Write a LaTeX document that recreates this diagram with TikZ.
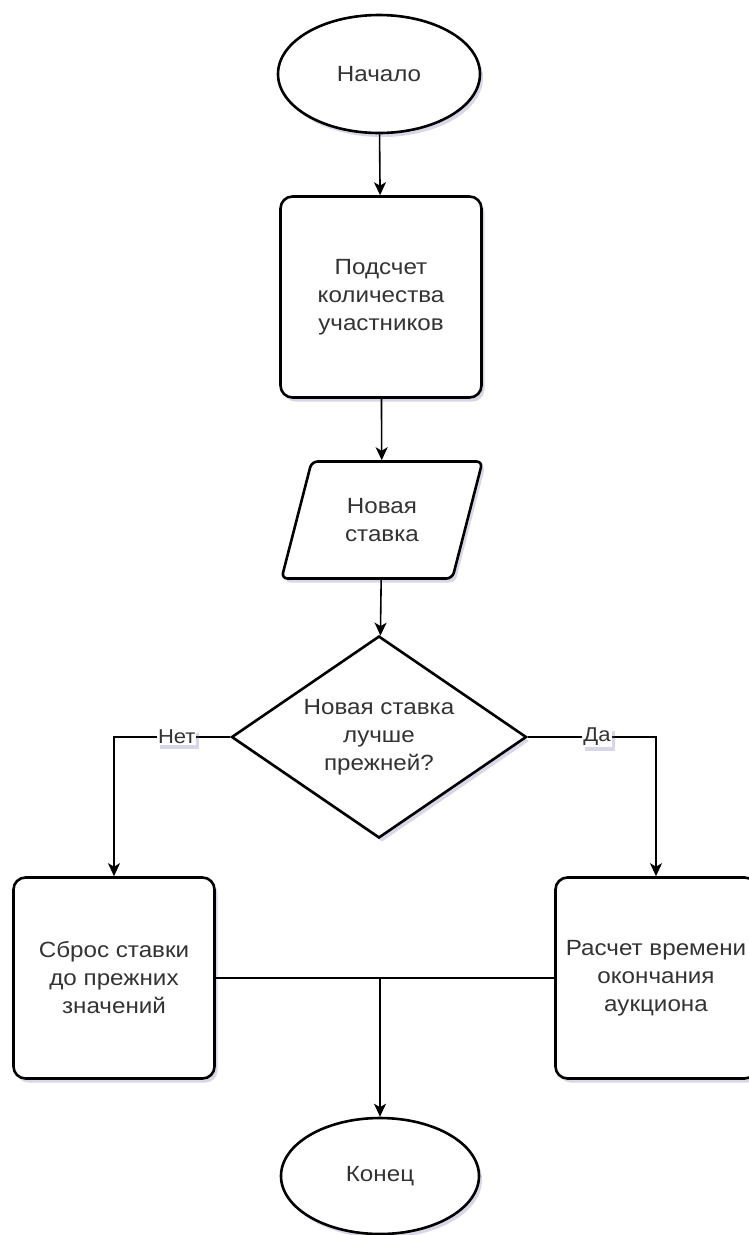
\documentclass[tikz,border=0pt]{standalone}
\usepackage{fontspec}
\setmainfont[FakeStretch=1.1]{Liberation Sans}
\usetikzlibrary{shapes.geometric, arrows.meta, shadows}

\begin{document}
\begin{tikzpicture}[x=1pt, y=-1pt, line width=1.6pt,
    >={Stealth[length=13pt, width=12pt, inset=3.5pt]}]
      \tikzstyle{every node}=[font=\fontsize{22}{28}\selectfont, text=black!80, align=center]
      \tikzstyle{block}=[draw, line width=2.6pt, fill=white, drop shadow={shadow xshift=3pt, shadow yshift=-4pt, opacity=.25, fill=blue!25!gray}]
      \tikzstyle{proc}=[block, rectangle, rounded corners=12pt, minimum width=201pt, minimum height=201pt]
      \tikzstyle{term}=[block, ellipse, minimum width=202pt, minimum height=118pt]
      \tikzstyle{tag}=[fill=white, inner sep=1pt, font=\fontsize{20}{22}\selectfont, drop shadow={shadow xshift=3pt, shadow yshift=-4pt, opacity=.25, fill=blue!25!gray}]
      \useasboundingbox (0, 0) rectangle (748, 1235);
      \node [term] (beg) at (379, 74) {Начало};
      \node [proc] (cnt) at (381, 297) {Подсчет\\количества\\участников};
      \node [block, trapezium, trapezium left angle=71, trapezium right angle=109,
             rounded corners=6pt, minimum width=201pt, minimum height=117pt,
             trapezium stretches=true] (bid) at (382, 520) {Новая\\ставка};
      \node [block, diamond, minimum width=295pt, minimum height=202pt, inner sep=-30pt] (chk) at (379, 737) {Новая ставка\\лучше\\прежней?};
      \node [proc] (rst) at (114, 978) {Сброс ставки\\до прежних\\значений};
      \node [proc] (clc) at (656, 978) {Расчет времени\\окончания\\аукциона};
      \node [term, minimum width=198pt, minimum height=116pt] (fin) at (380, 1176) {Конец};
      \coordinate (j) at (rst.east -| fin.north);
      \draw[->] (beg) edge (cnt) (cnt) edge (bid) (bid) edge (chk);
      \draw[->] (chk.west) -| node[tag, pos=.23] {Нет} (rst.north);
      \draw[->] (chk.east) -| node[tag, pos=.27] {Да} (clc.north);
      \draw (rst) -- (clc);
      \draw[->] (j) -- (fin);
    \end{tikzpicture}
\end{document}
